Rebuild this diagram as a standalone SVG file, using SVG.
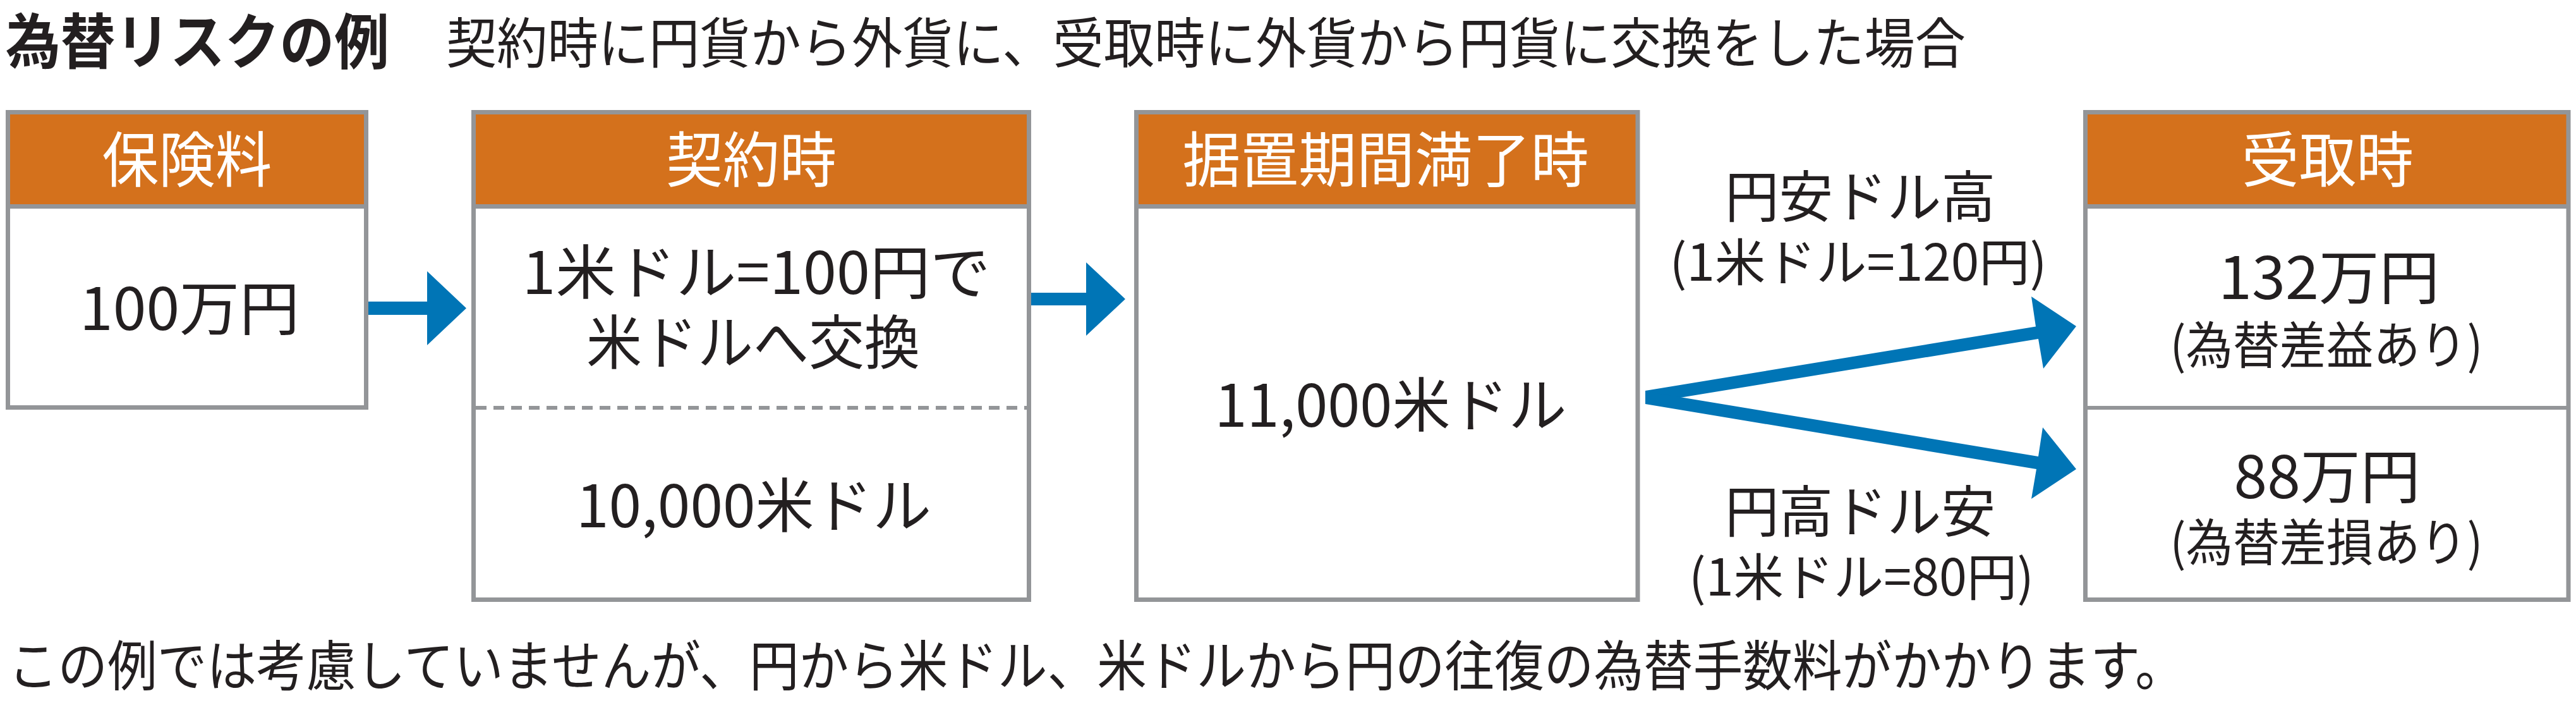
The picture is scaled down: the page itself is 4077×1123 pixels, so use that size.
<svg xmlns="http://www.w3.org/2000/svg" width="4077" height="1123" viewBox="0 0 4077 1123">
<style>
.body{fill:#ffffff}
.hdr{fill:#D4711C}
.frame{fill:none;stroke:#939598;stroke-width:7}
.sep{stroke:#939598;stroke-width:7}
.div{stroke:#939598;stroke-width:6}
.dash{stroke:#939598;stroke-width:6;stroke-dasharray:17 11}
.arrow{fill:#0075B6}
text{font-family:"Noto Sans CJK JP","Noto Sans",sans-serif}
.ht{fill:#ffffff;font-size:95px;text-anchor:middle}
.bt{fill:#231F20;font-size:93px;text-anchor:middle}
.st{fill:#231F20;font-size:80px;text-anchor:middle}
.lt{fill:#231F20;font-size:88px;text-anchor:middle}
</style>
<rect width="4077" height="1123" fill="#ffffff"/>
<g id="title">
<text x="9" y="101" font-size="95" font-weight="bold" fill="#231F20" textLength="607" lengthAdjust="spacingAndGlyphs">為替リスクの例</text>
<text x="706" y="100" font-size="86" fill="#231F20" textLength="2405" lengthAdjust="spacingAndGlyphs">契約時に円貨から外貨に、受取時に外貨から円貨に交換をした場合</text>
</g>
<g id="node-premium">
<rect class="body" x="12.5" y="177.5" width="567" height="467"/>
<rect class="hdr" x="12.5" y="177.5" width="567" height="149"/>
<rect class="frame" x="12.5" y="177.5" width="567" height="467"/>
<line class="sep" x1="12.5" y1="326.5" x2="579.5" y2="326.5"/>
<text class="ht" x="296" y="288" textLength="269" lengthAdjust="spacingAndGlyphs">保険料</text>
<text class="bt" x="300" y="522" textLength="348" lengthAdjust="spacingAndGlyphs">100万円</text>
</g>
<g id="node-contract">
<rect class="body" x="749.5" y="177.5" width="879" height="771"/>
<rect class="hdr" x="749.5" y="177.5" width="879" height="149"/>
<rect class="frame" x="749.5" y="177.5" width="879" height="771"/>
<line class="sep" x1="749.5" y1="326.5" x2="1628.5" y2="326.5"/>
<line class="dash" x1="753" y1="645" x2="1625" y2="645"/>
<text class="ht" x="1189" y="288" textLength="270" lengthAdjust="spacingAndGlyphs">契約時</text>
<text class="bt" x="1197" y="465" textLength="741" lengthAdjust="spacingAndGlyphs">1米ドル=100円で</text>
<text class="bt" x="1192" y="576" textLength="528" lengthAdjust="spacingAndGlyphs">米ドルへ交換</text>
<text class="bt" x="1193" y="834" textLength="562" lengthAdjust="spacingAndGlyphs">10,000米ドル</text>
</g>
<g id="node-maturity">
<rect class="body" x="1798.5" y="177.5" width="793.5" height="771"/>
<rect class="hdr" x="1798.5" y="177.5" width="793.5" height="149"/>
<rect class="frame" x="1798.5" y="177.5" width="793.5" height="771"/>
<line class="sep" x1="1798.5" y1="326.5" x2="2592" y2="326.5"/>
<text class="ht" x="2193" y="288" textLength="643" lengthAdjust="spacingAndGlyphs">据置期間満了時</text>
<text class="bt" x="2201" y="675" textLength="557" lengthAdjust="spacingAndGlyphs">11,000米ドル</text>
</g>
<g id="node-receipt">
<rect class="body" x="3300.5" y="177.5" width="764.5" height="771"/>
<rect class="hdr" x="3300.5" y="177.5" width="764.5" height="149"/>
<rect class="frame" x="3300.5" y="177.5" width="764.5" height="771"/>
<line class="sep" x1="3300.5" y1="326.5" x2="4065" y2="326.5"/>
<line class="div" x1="3300.5" y1="645" x2="4065" y2="645"/>
<text class="ht" x="3684" y="288" textLength="272" lengthAdjust="spacingAndGlyphs">受取時</text>
<text class="bt" x="3686" y="473" textLength="350" lengthAdjust="spacingAndGlyphs">132万円</text>
<text class="st" x="3682" y="575" textLength="495" lengthAdjust="spacingAndGlyphs">(為替差益あり)</text>
<text class="bt" x="3683" y="788" textLength="295" lengthAdjust="spacingAndGlyphs">88万円</text>
<text class="st" x="3682" y="887" textLength="495" lengthAdjust="spacingAndGlyphs">(為替差損あり)</text>
</g>
<g id="connectors">
<polygon class="arrow" points="583,477 676,477 676,429 738,487.5 676,546 676,498 583,498"/>
<polygon class="arrow" points="1632,463 1719,463 1719,415 1781,473 1719,531 1719,483 1632,483"/>
<polygon class="arrow" points="2604,618 3222,516.5 3215,469 3286,516 3234,583 3226,536 2604,638"/>
<polygon class="arrow" points="2604,619 3226,722 3233,676 3286,742 3215,789 3223,742 2604,639"/>
<text class="lt" x="2944" y="343" textLength="428" lengthAdjust="spacingAndGlyphs">円安ドル高</text>
<text class="st" x="2941" y="444" textLength="597" lengthAdjust="spacingAndGlyphs">(1米ドル=120円)</text>
<text class="lt" x="2944" y="841" textLength="428" lengthAdjust="spacingAndGlyphs">円高ドル安</text>
<text class="st" x="2946" y="942" textLength="546" lengthAdjust="spacingAndGlyphs">(1米ドル=80円)</text>
</g>
<g id="footnote">
<text x="13" y="1085" font-size="86" fill="#231F20" textLength="3445" lengthAdjust="spacingAndGlyphs">この例では考慮していませんが、円から米ドル、米ドルから円の往復の為替手数料がかかります。</text>
</g>
</svg>
